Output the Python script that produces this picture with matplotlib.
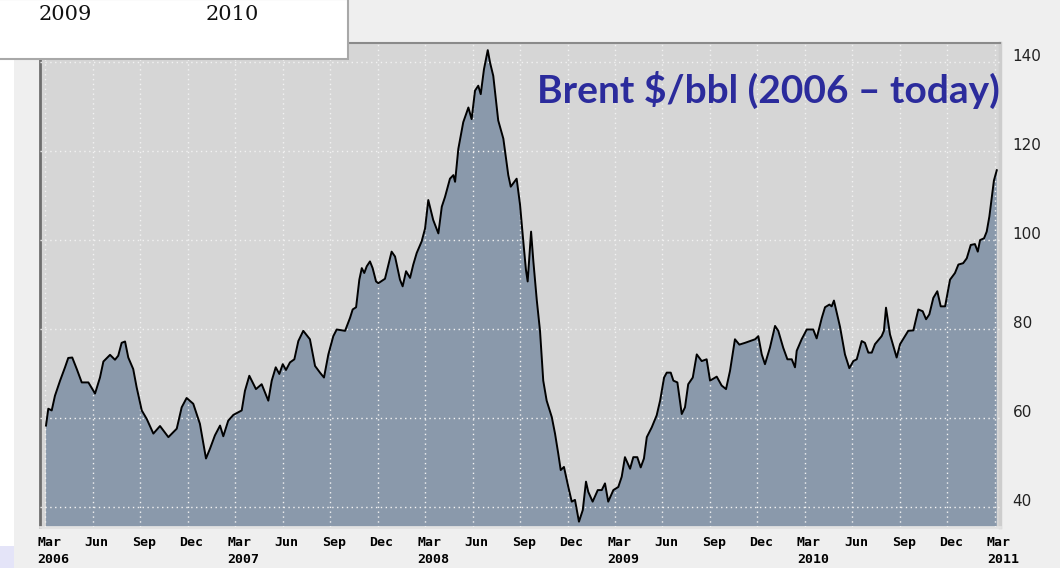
import matplotlib.pyplot as plt
from matplotlib.patches import Rectangle
from matplotlib.transforms import ScaledTranslation

# Brent weekly close, time as decimal years
years = [2006.172, 2006.184, 2006.202, 2006.219, 2006.246, 2006.272, 2006.289, 2006.310,
         2006.334, 2006.360, 2006.395, 2006.430, 2006.456, 2006.474, 2006.509, 2006.535,
         2006.552, 2006.570, 2006.588, 2006.605, 2006.631, 2006.649, 2006.676, 2006.702,
         2006.737, 2006.772, 2006.816, 2006.860, 2006.886, 2006.912, 2006.947, 2006.982,
         2007.014, 2007.035, 2007.061, 2007.088, 2007.105, 2007.131, 2007.158, 2007.202,
         2007.219, 2007.242, 2007.277, 2007.307, 2007.342, 2007.360, 2007.381, 2007.400,
         2007.418, 2007.435, 2007.456, 2007.479, 2007.500, 2007.526, 2007.561, 2007.588,
         2007.614, 2007.635, 2007.658, 2007.684, 2007.702, 2007.746, 2007.772, 2007.786,
         2007.804, 2007.821, 2007.834, 2007.847, 2007.860, 2007.877, 2007.891, 2007.909,
         2007.921, 2007.956, 2007.991, 2008.009, 2008.035, 2008.049, 2008.067, 2008.088,
         2008.105, 2008.123, 2008.149, 2008.167, 2008.184, 2008.210, 2008.237, 2008.255,
         2008.272, 2008.298, 2008.316, 2008.325, 2008.342, 2008.368, 2008.395, 2008.412,
         2008.430, 2008.447, 2008.460, 2008.477, 2008.497, 2008.509, 2008.526, 2008.552,
         2008.579, 2008.605, 2008.618, 2008.649, 2008.667, 2008.684, 2008.698, 2008.707,
         2008.725, 2008.737, 2008.755, 2008.772, 2008.789, 2008.807, 2008.834, 2008.851,
         2008.868, 2008.881, 2008.898, 2008.921, 2008.939, 2008.956, 2008.977, 2008.997,
         2009.014, 2009.026, 2009.049, 2009.076, 2009.097, 2009.114, 2009.131, 2009.158,
         2009.184, 2009.202, 2009.219, 2009.246, 2009.263, 2009.284, 2009.302, 2009.319,
         2009.334, 2009.360, 2009.386, 2009.404, 2009.425, 2009.439, 2009.460, 2009.474,
         2009.495, 2009.518, 2009.535, 2009.552, 2009.576, 2009.597, 2009.623, 2009.649,
         2009.667, 2009.702, 2009.728, 2009.751, 2009.772, 2009.798, 2009.821, 2009.851,
         2009.877, 2009.904, 2009.921, 2009.939, 2009.956, 2009.982, 2010.009, 2010.026,
         2010.052, 2010.074, 2010.097, 2010.114, 2010.123, 2010.149, 2010.176, 2010.210,
         2010.228, 2010.255, 2010.272, 2010.295, 2010.307, 2010.319, 2010.334, 2010.351,
         2010.377, 2010.400, 2010.421, 2010.439, 2010.465, 2010.482, 2010.500, 2010.518,
         2010.535, 2010.570, 2010.582, 2010.593, 2010.614, 2010.649, 2010.667, 2010.710,
         2010.737, 2010.763, 2010.786, 2010.804, 2010.821, 2010.842, 2010.863, 2010.881,
         2010.904, 2010.930, 2010.956, 2010.974, 2010.999, 2011.018, 2011.039, 2011.061,
         2011.076, 2011.088, 2011.109, 2011.123, 2011.137, 2011.149, 2011.161, 2011.176]
brent = [58.3, 62.1, 61.7, 65.0, 68.4, 71.4, 73.5, 73.6,
         71.0, 68.0, 68.0, 65.5, 69.1, 72.7, 74.2, 73.1,
         74.0, 76.9, 77.2, 73.6, 71.0, 66.9, 61.7, 59.8,
         56.5, 58.2, 55.7, 57.6, 62.4, 64.5, 63.2, 58.7,
         50.9, 53.1, 56.1, 58.3, 55.9, 59.4, 60.7, 61.7,
         66.1, 69.5, 66.5, 67.6, 63.9, 68.4, 71.4, 69.9,
         72.1, 70.8, 72.5, 73.2, 77.3, 79.6, 77.7, 71.7,
         70.2, 69.1, 74.3, 78.4, 79.9, 79.6, 82.5, 84.4,
         84.9, 91.1, 93.7, 92.6, 94.1, 95.2, 93.7, 90.7,
         90.3, 91.3, 97.4, 96.3, 91.1, 89.6, 93.0, 91.5,
         94.5, 97.1, 99.7, 102.6, 109.0, 104.5, 101.5, 107.5,
         109.7, 113.8, 114.6, 113.1, 120.5, 126.5, 129.8, 127.2,
         133.6, 134.7, 132.8, 138.4, 142.7, 139.9, 136.9, 126.9,
         122.8, 114.6, 112.0, 113.8, 107.9, 99.7, 93.3, 90.7,
         101.9, 95.2, 86.5, 79.6, 68.4, 63.9, 60.2, 56.5,
         52.0, 48.3, 49.0, 44.5, 41.2, 41.6, 36.7, 39.3,
         45.7, 43.4, 41.2, 43.8, 43.8, 45.3, 41.2, 43.8,
         44.5, 46.8, 51.2, 48.6, 51.2, 51.2, 48.9, 50.9,
         55.7, 57.9, 60.6, 63.9, 69.1, 70.2, 70.2, 68.4,
         68.0, 60.9, 62.4, 67.6, 69.1, 74.3, 72.8, 73.2,
         68.4, 69.3, 67.3, 66.5, 70.6, 77.7, 76.5, 76.9,
         77.3, 77.7, 78.4, 74.3, 72.1, 75.8, 80.7, 79.6,
         75.8, 73.2, 73.2, 71.4, 75.1, 77.7, 79.9, 79.9,
         77.9, 82.5, 84.9, 85.5, 85.1, 86.4, 83.6, 80.5,
         74.3, 71.2, 72.8, 73.2, 77.3, 76.9, 74.7, 74.7,
         76.6, 78.4, 79.6, 84.8, 78.8, 73.6, 76.6, 79.6,
         79.7, 84.4, 84.0, 82.2, 83.3, 87.0, 88.5, 85.1,
         85.1, 91.1, 92.6, 94.5, 94.8, 95.9, 98.9, 99.1,
         97.4, 100.0, 100.4, 101.9, 105.3, 109.3, 113.4, 115.7]

month_names = ['Mar', 'Jun', 'Sep', 'Dec']
tick_years = [2006, 2007, 2008, 2009, 2010, 2011]
price_ticks = [40, 60, 80, 100, 120, 140]

# quarter ticks, Mar 2006 .. Mar 2011
quarter_pos = [2006 + 2 / 12 + 0.25 * k for k in range(21)]
quarter_lab = []
for k in range(21):
    name = month_names[k % 4]
    if k % 4 == 0:
        name = name + '\n' + str(tick_years[k // 4])
    quarter_lab.append(name)

fig = plt.figure(figsize=(10.6, 5.68), dpi=100, facecolor='#efefef')

# white strip on the left edge and the little lavender corner
fig.patches.append(Rectangle((0, 22 / 568), 14 / 1060, 1, transform=fig.transFigure,
                             facecolor='white', edgecolor='none', zorder=0))
fig.patches.append(Rectangle((0, 0), 14 / 1060, 22 / 568, transform=fig.transFigure,
                             facecolor='#e4e4f8', edgecolor='none', zorder=0))

ax = fig.add_axes([40 / 1060, 1 - 527 / 568, 960 / 1060, 484 / 568])
ax.set_facecolor('#d6d6d6')

ax.fill_between(years, brent, 0, color='#8a99ab', zorder=2, linewidth=0)
ax.plot(years, brent, color='black', linewidth=1.4, zorder=3)

ax.set_xlim(2006 + 2 / 12 - 5 / 190, 2006 + 2 / 12 + 955 / 190)
ax.set_ylim(35.5, 144.3)

ax.set_xticks(quarter_pos, quarter_lab)
ax.set_yticks(price_ticks)
ax.yaxis.tick_right()
ax.grid(True, color='#f2f2f2', linestyle=(0, (1, 2.5)), linewidth=1.0, zorder=4)
ax.set_axisbelow(False)
ax.tick_params(axis='both', length=0)
ax.tick_params(axis='x', pad=6.5)
ax.tick_params(axis='y', pad=9)

shift_x = ScaledTranslation(-8 / 100, 0, fig.dpi_scale_trans)
for lab in ax.get_xticklabels():
    lab.set_fontfamily('DejaVu Sans Mono')
    lab.set_fontweight('bold')
    lab.set_fontsize(9.5)
    lab.set_horizontalalignment('left')
    lab.set_verticalalignment('top')
    lab.set_linespacing(1.35)
    lab.set_transform(lab.get_transform() + shift_x)

shift_y = ScaledTranslation(0, 7 / 100, fig.dpi_scale_trans)
for lab in ax.get_yticklabels():
    lab.set_fontsize(11)
    lab.set_color('#222222')
    lab.set_transform(lab.get_transform() + shift_y)

ax.spines['left'].set_color('#6e6e6e')
ax.spines['left'].set_linewidth(2)
ax.spines['top'].set_color('#8a8a8a')
ax.spines['top'].set_linewidth(1.5)
ax.spines['right'].set_color('#cdcdcd')
ax.spines['right'].set_linewidth(2.5)
ax.spines['bottom'].set_color('#e2e2e2')
ax.spines['bottom'].set_linewidth(2)

# leftover table box from the slide, top-left
fig.patches.append(Rectangle((-0.01, 1 - 59 / 568), 348 / 1060 + 0.01, 60 / 568,
                             transform=fig.transFigure, facecolor='white',
                             edgecolor='#a8a8a8', linewidth=1.5, zorder=5))
fig.text(65 / 1060, 1 - 15 / 568, '2009', fontsize=15, family='DejaVu Serif',
         ha='center', va='center', color='#111111', zorder=6)
fig.text(232 / 1060, 1 - 15 / 568, '2010', fontsize=15, family='DejaVu Serif',
         ha='center', va='center', color='#111111', zorder=6)

fig.text(1000 / 1060, 1 - 103 / 568, 'Brent $/bbl (2006 \u2013 today)', fontsize=28,
         family='Lato', fontweight='bold', color='#2b2b9c', ha='right', va='baseline')

fig.savefig('out.png', dpi=100, facecolor=fig.get_facecolor())
